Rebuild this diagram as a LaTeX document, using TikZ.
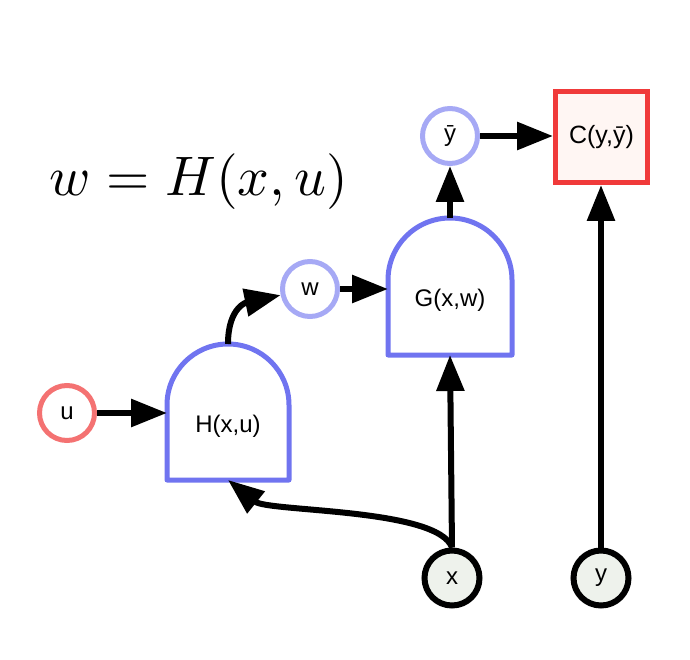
\documentclass[tikz,border=0pt]{standalone}
\usepackage{fontspec}
\setmainfont{Liberation Sans}
\usetikzlibrary{arrows.meta}
\definecolor{gblue}{HTML}{7074F0}
\definecolor{lblue}{HTML}{A6A9F5}
\definecolor{ured}{HTML}{F47272}
\definecolor{cred}{HTML}{F03A3A}
\definecolor{cfill}{HTML}{FFF6F3}
\definecolor{obsfill}{HTML}{EEF2EC}
\tikzset{
  lbl/.style={font=\fontsize{24}{26}\selectfont, inner sep=0pt},
  circ/.style={circle, draw, line width=5pt, minimum size=55pt, inner sep=0pt, font=\fontsize{24}{26}\selectfont},
  obs/.style={circ, draw=black, fill=obsfill, line width=6pt},
  lat/.style={circ, draw=lblue, fill=white},
  inp/.style={circ, draw=ured, fill=white},
  gatebox/.style={shape=rectangle, inner sep=0pt, outer sep=0pt},
  gate/.style={draw=gblue, line width=5pt, line join=round, fill=white},
  arr/.style={line width=6pt, -{Triangle[length=36pt,width=27pt]}}
}
\begin{document}
\begin{tikzpicture}[x=1pt,y=-1pt]
\useasboundingbox (0,0) rectangle (690,660);
% equation
\node[inner sep=0pt] (eq) at (199,182) {\resizebox{298pt}{!}{$w = H(x,u)$}};
% gate H
\node[gatebox, minimum width=122pt, minimum height=136pt] (H) at (228,412) {};
\draw[gate] (H.south west) -- (167,405) arc[start angle=180, end angle=0, radius=61pt] -- (H.south east) -- cycle;
\node[lbl] (Hl) at (228,426) {H(x,u)};
% gate G
\node[gatebox, minimum width=124pt, minimum height=137pt] (G) at (450,286.5) {};
\draw[gate] (G.south west) -- (388,280) arc[start angle=180, end angle=0, radius=62pt] -- (G.south east) -- cycle;
\node[lbl] (Gl) at (450,300) {G(x,w)};
% cost box
\node[draw=cred, fill=cfill, line width=5pt, minimum width=92pt, minimum height=91pt, inner sep=0pt, font=\fontsize{25}{27}\selectfont] (C) at (601.5,137) {C(y,ȳ)};
% circles
\node[inp] (u) at (67,413) {u};
\node[lat] (w) at (310,289) {w};
\node[lat] (yb) at (450,136) {ȳ};
\node[obs] (x) at (452,578) {x};
\node[obs] (y) at (601,578) {y};
% connectors
\draw[arr] (u) -- (H.west |- u);
\draw[arr] (H.north) .. controls (228,306) and (248,302) .. (w);
\draw[arr] (w) -- (G.west |- w);
\draw[arr] (G.north) -- (yb);
\draw[arr] (yb) -- (C.west |- yb);
\draw[arr] (x.north) -- (G.south);
\draw[arr] (x.north) .. controls (438,508) and (268,512) .. (H.south);
\draw[arr] (y.north) -- (C.south -| y);
\end{tikzpicture}
\end{document}
